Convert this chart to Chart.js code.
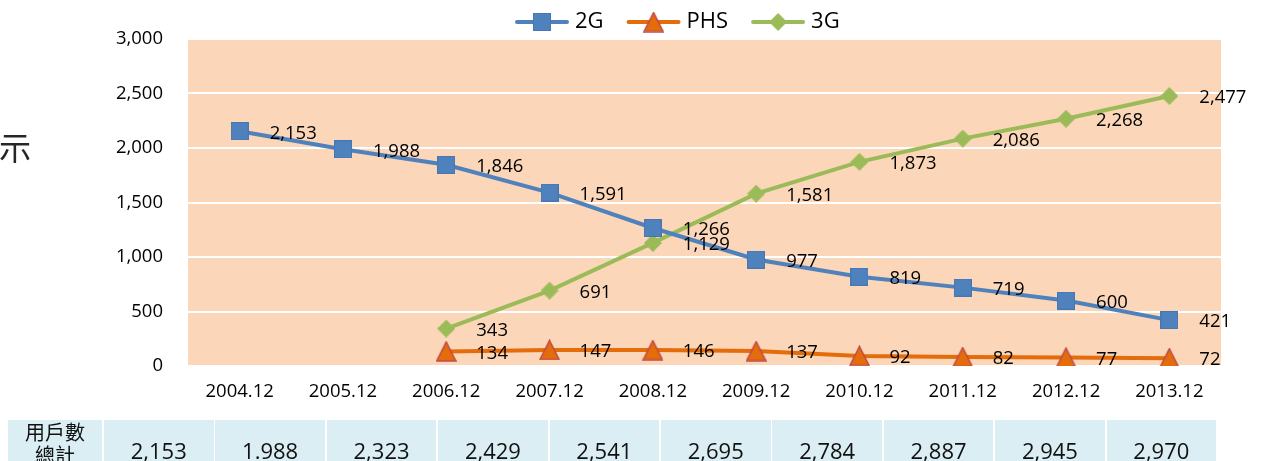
<!DOCTYPE html>
<html lang="zh-Hant">
<head>
<meta charset="utf-8">
<title>用戶數</title>
<script src="https://cdn.jsdelivr.net/npm/chart.js@4.4.1/dist/chart.umd.min.js"></script>
<style>
  html, body { margin: 0; padding: 0; background: #fff; overflow: hidden; }
  #wrap { position: relative; width: 1265px; height: 461px; overflow: hidden; }
  #grafico { position: absolute; left: 0; top: 0; }
  .lado { position: absolute; left: -1px; top: 126px; font-size: 32px; line-height: 40px;
          font-family: 'Noto Sans CJK TC', sans-serif; color: #262626; }
  .celula { position: absolute; top: 420px; height: 60px; background: #DAEEF3; color: #111;
            text-align: center; font-family: 'Open Sans', sans-serif; font-size: 22px; line-height: 60px; }
  .celula.titulo { font-family: 'Noto Sans CJK TC', sans-serif; font-size: 20px; line-height: 23px; }
</style>
</head>
<body>
<div id="wrap">
  <canvas id="grafico" width="1265" height="461"></canvas>
  <div class="lado">示</div>
  <div id="tabela"></div>
</div>
<script>
const anos = ['2004.12', '2005.12', '2006.12', '2007.12', '2008.12', '2009.12', '2010.12', '2011.12', '2012.12', '2013.12'];
const valores2G = [2153, 1988, 1846, 1591, 1266, 977, 819, 719, 600, 421];
const valoresPHS = [null, null, 134, 147, 146, 137, 92, 82, 77, 72];
const valores3G = [null, null, 343, 691, 1129, 1581, 1873, 2086, 2268, 2477];
const totais = ['2,153', '1.988', '2,323', '2,429', '2,541', '2,695', '2,784', '2,887', '2,945', '2,970'];
const tituloTabela = ['用戶數', '總計'];

const AZUL = '#4F81BD';
const LARANJA = '#E46C0A';
const VERDE = '#9BBB59';
const FONTE = "'Open Sans', 'Noto Sans', sans-serif";

// marcadores desenhados em canvas pequenos
function criarMarcador(tipo) {
  const c = document.createElement('canvas');
  const g = c.getContext('2d');
  if (tipo === 'quadrado') {
    c.width = 18; c.height = 18;
    g.fillStyle = AZUL;
    g.fillRect(0, 0, 18, 18);
    g.strokeStyle = '#4677B4';
    g.lineWidth = 1;
    g.strokeRect(0.5, 0.5, 17, 17);
  } else if (tipo === 'triangulo') {
    c.width = 21; c.height = 21;
    g.beginPath();
    g.moveTo(10.5, 1);
    g.lineTo(20, 20);
    g.lineTo(1, 20);
    g.closePath();
    g.fillStyle = LARANJA;
    g.fill();
    g.strokeStyle = '#BE4B48';
    g.lineWidth = 1.5;
    g.stroke();
  } else {
    c.width = 18; c.height = 18;
    g.beginPath();
    g.moveTo(9, 0);
    g.lineTo(18, 9);
    g.lineTo(9, 18);
    g.lineTo(0, 9);
    g.closePath();
    g.fillStyle = VERDE;
    g.fill();
  }
  return c;
}

const marcadores = [criarMarcador('quadrado'), criarMarcador('triangulo'), criarMarcador('losango')];

const fundo = {
  id: 'fundo',
  beforeDraw(chart) {
    const {ctx, chartArea: a} = chart;
    ctx.save();
    ctx.fillStyle = '#FBD6B8';
    ctx.fillRect(a.left, a.top, a.right - a.left, a.bottom - a.top);
    ctx.restore();
  }
};

const rotulos = {
  id: 'rotulos',
  afterDatasetsDraw(chart) {
    const ctx = chart.ctx;
    ctx.save();
    ctx.font = '18.5px ' + FONTE;
    ctx.fillStyle = '#000';
    ctx.textAlign = 'left';
    ctx.textBaseline = 'middle';
    chart.data.datasets.forEach((ds, i) => {
      const meta = chart.getDatasetMeta(i);
      meta.data.forEach((pt, j) => {
        const v = ds.data[j];
        if (v === null || v === undefined) return;
        ctx.fillText(v.toLocaleString('en-US'), pt.x + 30, pt.y + 2);
      });
    });
    ctx.restore();
  }
};

const legenda = {
  id: 'legenda',
  afterDraw(chart) {
    const ctx = chart.ctx;
    ctx.save();
    ctx.font = '22px ' + FONTE;
    ctx.textBaseline = 'middle';
    ctx.textAlign = 'left';
    let x = 515;
    const y = 22;
    chart.data.datasets.forEach((ds, i) => {
      ctx.strokeStyle = ds.borderColor;
      ctx.lineWidth = 4;
      ctx.lineCap = 'round';
      ctx.beginPath();
      ctx.moveTo(x + 2, y);
      ctx.lineTo(x + 52, y);
      ctx.stroke();
      const m = marcadores[i];
      ctx.drawImage(m, x + 27 - m.width / 2, y - m.height / 2);
      ctx.fillStyle = '#000';
      ctx.fillText(ds.label, x + 60, y);
      x += 60 + ctx.measureText(ds.label).width + 23;
    });
    ctx.restore();
  }
};

function montarTabela() {
  const tabela = document.getElementById('tabela');
  const t = document.createElement('div');
  t.className = 'celula titulo';
  t.style.left = '8px';
  t.style.width = '94px';
  t.innerHTML = tituloTabela.join('<br>');
  tabela.appendChild(t);
  totais.forEach((valor, i) => {
    const c = document.createElement('div');
    c.className = 'celula';
    c.style.left = (104 + i * 111.4) + 'px';
    c.style.width = '109.5px';
    c.textContent = valor;
    tabela.appendChild(c);
  });
}

function init() {
  Chart.defaults.font.family = FONTE;
  Chart.defaults.color = '#000';

  new Chart(document.getElementById('grafico'), {
    type: 'line',
    data: {
      labels: anos,
      datasets: [
        { label: '2G', data: valores2G, borderColor: AZUL, backgroundColor: AZUL, borderWidth: 4, pointStyle: marcadores[0] },
        { label: 'PHS', data: valoresPHS, borderColor: LARANJA, backgroundColor: LARANJA, borderWidth: 4, pointStyle: marcadores[1] },
        { label: '3G', data: valores3G, borderColor: VERDE, backgroundColor: VERDE, borderWidth: 4, pointStyle: marcadores[2] }
      ]
    },
    options: {
      responsive: false,
      animation: false,
      devicePixelRatio: 1,
      layout: { padding: { left: 0, right: 44, top: 39, bottom: 55 } },
      elements: { line: { tension: 0 } },
      scales: {
        x: {
          offset: true,
          grid: { display: false, drawTicks: false },
          border: { display: false },
          ticks: { font: { size: 18.5 }, padding: 15, maxRotation: 0, autoSkip: false },
          afterFit(scale) { scale.height = 40; }
        },
        y: {
          min: 0,
          max: 3000,
          ticks: { stepSize: 500, font: { size: 18.5 }, padding: 25 },
          grid: { color: '#FFFFFF', lineWidth: 2, drawTicks: false },
          border: { display: false },
          afterFit(scale) { scale.width = 188; }
        }
      },
      plugins: {
        legend: { display: false },
        tooltip: { enabled: false }
      }
    },
    plugins: [fundo, rotulos, legenda]
  });

  montarTabela();
}

if (document.readyState === 'loading') {
  document.addEventListener('DOMContentLoaded', init);
} else {
  init();
}
</script>
</body>
</html>
